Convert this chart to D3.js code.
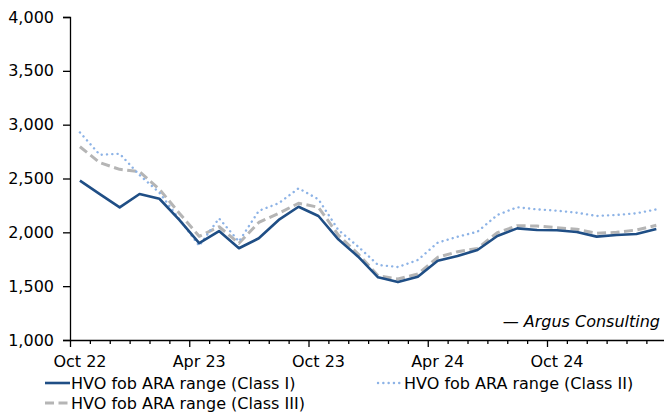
<!DOCTYPE html>
<html>
<head>
<meta charset="utf-8">
<script src="https://cdn.jsdelivr.net/npm/d3@7"></script>
<style>
  html, body { margin: 0; padding: 0; background: #fff; }
  svg { display: block; font-family: "DejaVu Sans", Verdana, sans-serif; }
</style>
</head>
<body>
<svg id="chart" width="664" height="416"></svg>
<script>
// Monthly HVO fob ARA prices, $/t
const months = ["Oct 22","Nov 22","Dec 22","Jan 23","Feb 23","Mar 23","Apr 23","May 23","Jun 23","Jul 23","Aug 23","Sep 23",
  "Oct 23","Nov 23","Dec 23","Jan 24","Feb 24","Mar 24","Apr 24","May 24","Jun 24","Jul 24","Aug 24","Sep 24",
  "Oct 24","Nov 24","Dec 24","Jan 25","Feb 25","Mar 25"];
const classI   = [2480, 2355, 2232, 2356, 2312, 2115, 1900, 2012, 1852, 1945, 2115, 2238, 2152, 1935, 1774, 1582, 1538, 1588, 1737, 1780, 1836, 1966, 2037, 2022, 2019, 2003, 1960, 1975, 1985, 2031];
const classII  = [2928, 2720, 2730, 2532, 2368, 2124, 1876, 2130, 1915, 2200, 2270, 2409, 2307, 2022, 1867, 1697, 1678, 1743, 1904, 1959, 2006, 2161, 2233, 2213, 2201, 2182, 2152, 2161, 2177, 2213];
const classIII = [2795, 2647, 2585, 2563, 2400, 2178, 1963, 2052, 1898, 2092, 2177, 2270, 2233, 1975, 1799, 1597, 1567, 1613, 1768, 1820, 1851, 1997, 2061, 2059, 2043, 2028, 1991, 2000, 2022, 2065];
const yTicks = [1000, 1500, 2000, 2500, 3000, 3500, 4000];
const xLabels = ["Oct 22", "Apr 23", "Oct 23", "Apr 24", "Oct 24"];
const seriesNames = ["HVO fob ARA range (Class I)", "HVO fob ARA range (Class II)", "HVO fob ARA range (Class III)"];
const sourceText = "\u2014 Argus Consulting";

const svg = d3.select("#chart");
const plotLeft = 70, plotRight = 666.25, plotTop = 17, plotBottom = 340;

const x = d3.scaleBand().domain(months).range([plotLeft, plotRight]).padding(0);
const xEdge = d3.scaleLinear().domain([0, months.length]).range([plotLeft, plotRight]);
const y = d3.scaleLinear().domain([1000, 4000]).range([plotBottom, plotTop]);

const fmt = d3.format(",");

// Y axis
const yAxis = svg.append("g")
  .attr("transform", `translate(${plotLeft},0)`)
  .call(d3.axisLeft(y).tickValues(yTicks).tickFormat(fmt).tickSize(7).tickPadding(9));
yAxis.select(".domain").attr("stroke", "#000").attr("stroke-width", 1.3);
yAxis.selectAll(".tick line").attr("stroke", "#000").attr("stroke-width", 1.3);
yAxis.selectAll("text").attr("font-size", 16).attr("fill", "#000")
  .attr("font-family", "DejaVu Sans, Verdana, sans-serif");

// X axis: minor ticks at every month boundary, longer ones every six months
const minorIdx = d3.range(0, months.length + 1).filter(i => i % 6 !== 0);
const majorIdx = d3.range(0, months.length + 1).filter(i => i % 6 === 0);
const xAxisMinor = svg.append("g")
  .attr("transform", `translate(0,${plotBottom})`)
  .call(d3.axisBottom(xEdge).tickValues(minorIdx).tickFormat("").tickSize(4).tickSizeOuter(0));
xAxisMinor.select(".domain").attr("stroke", "#000").attr("stroke-width", 1.3);
xAxisMinor.selectAll(".tick line").attr("stroke", "#000").attr("stroke-width", 1.3);
const xAxisMajor = svg.append("g")
  .attr("transform", `translate(0,${plotBottom})`)
  .call(d3.axisBottom(xEdge).tickValues(majorIdx).tickFormat("").tickSize(7).tickSizeOuter(0));
xAxisMajor.select(".domain").remove();
xAxisMajor.selectAll(".tick line").attr("stroke", "#000").attr("stroke-width", 1.3);

// X labels centred under their month
const xLab = svg.append("g")
  .attr("transform", `translate(0,${plotBottom})`)
  .call(d3.axisBottom(x).tickValues(xLabels).tickSize(0).tickPadding(16));
xLab.select(".domain").remove();
xLab.selectAll("text").attr("font-size", 16).attr("fill", "#000")
  .attr("font-family", "DejaVu Sans, Verdana, sans-serif");

// Lines
const line = d3.line()
  .x((d, i) => x(months[i]) + x.bandwidth() / 2)
  .y(d => y(d));

const styles = [
  { data: classI,   stroke: "#1f4e85", width: 2.6, dash: null, cap: "butt" },
  { data: classII,  stroke: "#8db3e6", width: 2.4, dash: "0.1,5.2", cap: "round" },
  { data: classIII, stroke: "#b5b5b5", width: 3,   dash: "9,4.5", cap: "butt" }
];
// draw Class III first, then Class II, with Class I on top
[2, 1, 0].forEach(k => {
  const s = styles[k];
  svg.append("path")
    .datum(s.data)
    .attr("fill", "none")
    .attr("stroke", s.stroke)
    .attr("stroke-width", s.width)
    .attr("stroke-linejoin", "round")
    .attr("stroke-linecap", s.cap)
    .attr("stroke-dasharray", s.dash)
    .attr("d", line);
});

// Source note
svg.append("text")
  .attr("x", 660).attr("y", 327)
  .attr("text-anchor", "end")
  .attr("font-size", 16).attr("font-style", "italic").attr("fill", "#000")
  .text(sourceText);

// Legend
const legendPos = [
  { x: 45, y: 383 },
  { x: 378, y: 383 },
  { x: 45, y: 403 }
];
styles.forEach((s, k) => {
  const p = legendPos[k];
  const g = svg.append("g");
  g.append("line")
    .attr("x1", p.x).attr("x2", p.x + 25)
    .attr("y1", p.y).attr("y2", p.y)
    .attr("stroke", s.stroke)
    .attr("stroke-width", s.width)
    .attr("stroke-linecap", s.cap)
    .attr("stroke-dasharray", s.dash);
  g.append("text")
    .attr("x", p.x + 26).attr("y", p.y)
    .attr("dy", "0.36em")
    .attr("font-size", 16).attr("fill", "#000")
    .text(seriesNames[k]);
});
</script>
</body>
</html>
